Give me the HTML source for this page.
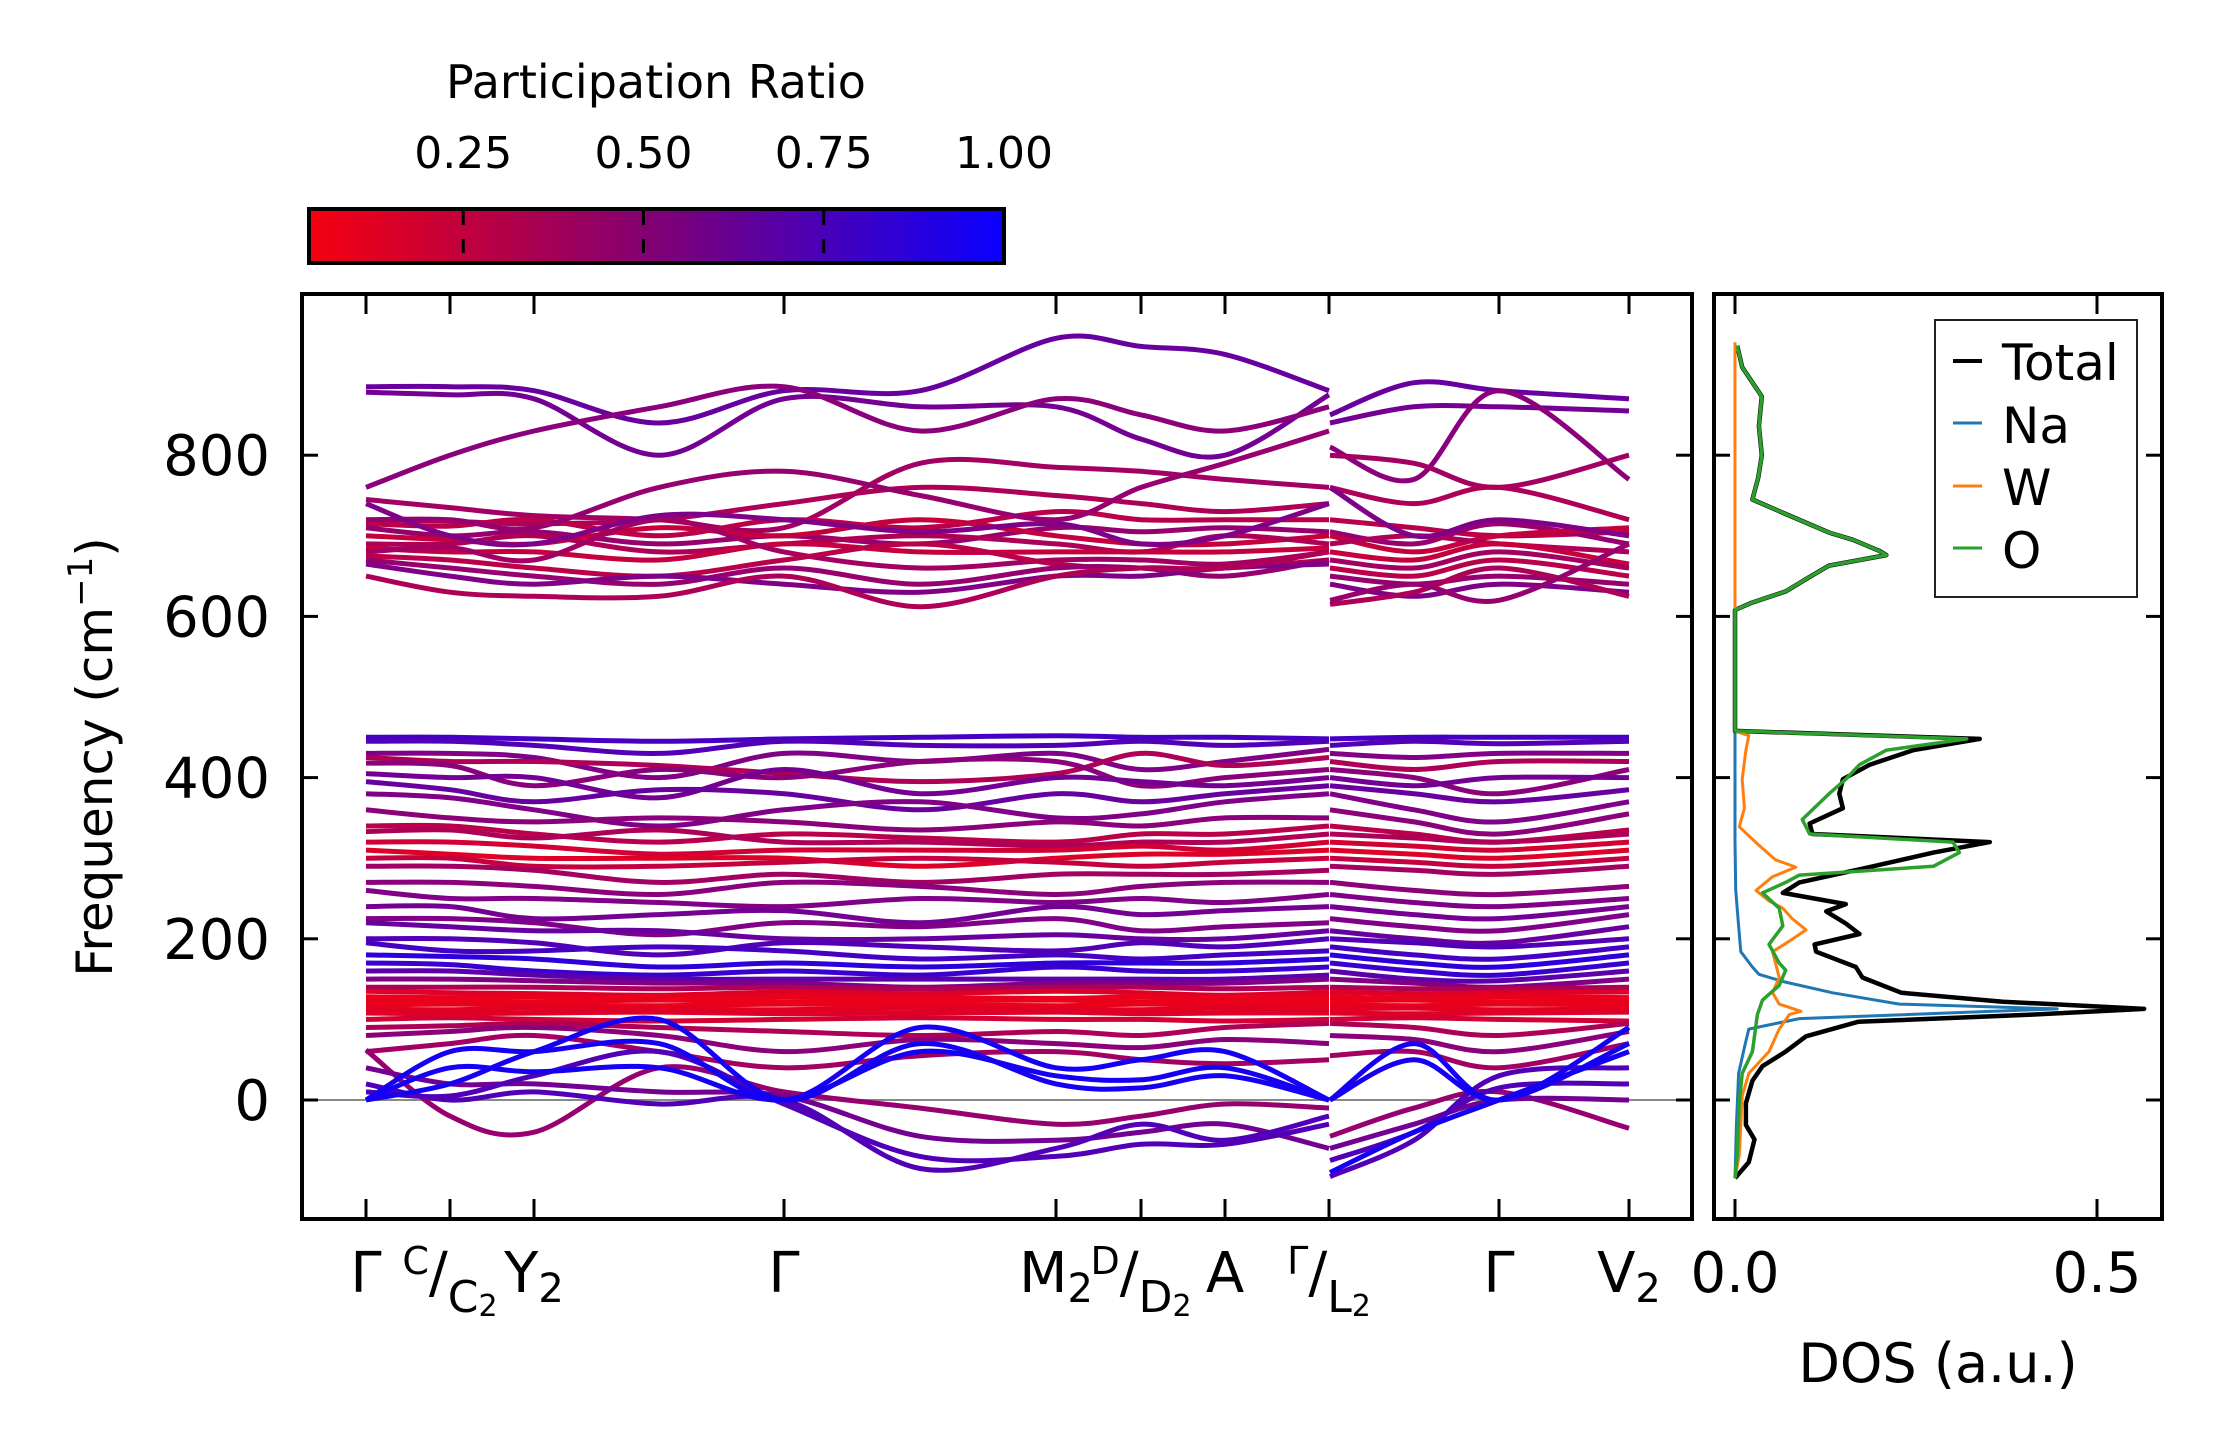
<!DOCTYPE html>
<html><head><meta charset="utf-8"><style>
html,body{margin:0;padding:0;background:#fff}
svg{display:block;font-family:"DejaVu Sans","Liberation Sans",sans-serif}
</style></head><body>
<svg id="fig" width="2222" height="1455" viewBox="0 0 2222 1455" xmlns="http://www.w3.org/2000/svg">
<defs>
<linearGradient id="cbgrad" x1="0" x2="1" y1="0" y2="0">
<stop offset="0" stop-color="#f5000f"/><stop offset="0.5" stop-color="#800075"/><stop offset="1" stop-color="#0a00ff"/>
</linearGradient>
<clipPath id="bandclip"><rect x="302" y="294" width="1390" height="925"/></clipPath>
<clipPath id="dosclip"><rect x="1714" y="294" width="448" height="925"/></clipPath>
</defs>
<g>
<text x="656" y="98" font-size="46" text-anchor="middle">Participation Ratio</text>
<rect x="309" y="209" width="695" height="54" fill="url(#cbgrad)" stroke="#000" stroke-width="4"/>
<g id="cbticks"></g>
</g>
<g id="bandplot">
<line x1="302" x2="1692" y1="1100" y2="1100" stroke="#888" stroke-width="2"/>
<g id="bands" clip-path="url(#bandclip)"></g>
<rect x="302" y="294" width="1390" height="925" fill="none" stroke="#000" stroke-width="4"/>
<g id="bandaxes"></g>
<text transform="translate(112,757) rotate(-90)" font-size="50" text-anchor="middle">Frequency (cm<tspan dy="-20" font-size="34">−1</tspan><tspan dy="20">)</tspan></text>
</g>
<g id="dosplot">
<g id="dos" clip-path="url(#dosclip)"></g>
<rect x="1714" y="294" width="448" height="925" fill="none" stroke="#000" stroke-width="4"/>
<g id="dosaxes"></g>
<text x="1938" y="1382" font-size="54" text-anchor="middle">DOS (a.u.)</text>
<g>
<rect x="1935" y="320" width="202" height="277" fill="#fff" stroke="#222" stroke-width="2"/>
<line x1="1953" x2="1982" y1="361" y2="361" stroke="#000" stroke-width="4"/>
<text x="2002" y="380" font-size="50">Total</text>
<line x1="1953" x2="1982" y1="423" y2="423" stroke="#1f77b4" stroke-width="3"/>
<text x="2002" y="443" font-size="50">Na</text>
<line x1="1953" x2="1982" y1="486" y2="486" stroke="#ff7f0e" stroke-width="3"/>
<text x="2002" y="505" font-size="50">W</text>
<line x1="1953" x2="1982" y1="548" y2="548" stroke="#2ca02c" stroke-width="3"/>
<text x="2002" y="568" font-size="50">O</text>
</g>
</g>
</svg>
<script>
// ---- data ----
const freqTicks = [0, 200, 400, 600, 800];
const kTickDist = [0, 0.84, 1.68, 4.18, 6.90, 7.75, 8.59, 9.63, 11.33, 12.63];
const kTickLabels = ["Γ", "C/C2", "Y2", "Γ", "M2", "D/D2", "A", "Γ/L2", "Γ", "V2"];
const sec1K = [0, 0.84, 1.68, 2.93, 4.18, 5.54, 6.90, 7.75, 8.59, 9.63];
const sec2K = [9.63, 10.48, 11.33, 12.63];
const cbTicks = [0.25, 0.5, 0.75, 1.0];
const cbTickLabels = ["0.25", "0.50", "0.75", "1.00"];
const bandSec1 = [
[885,885,880,840,880,880,945,935,925,880],[878,875,870,800,870,860,860,820,800,875],
[760,800,830,860,885,830,870,850,830,860],[745,735,725,720,710,790,785,780,770,760],
[720,718,715,720,740,760,750,740,730,740],[715,712,720,700,720,710,730,720,720,720],
[710,700,705,690,700,690,710,705,710,705],[700,695,690,710,700,720,700,690,690,700],
[690,690,700,680,690,700,690,680,700,690],[685,680,680,670,690,680,680,680,680,685],
[680,685,670,720,680,660,670,670,665,680],[675,670,660,650,670,690,665,660,660,670],
[670,660,650,640,660,640,660,660,650,670],[665,650,640,650,640,630,650,650,660,665],
[650,630,625,625,650,612,650,660,660,680],[720,720,710,760,780,750,720,760,790,830],
[740,700,690,725,720,705,715,690,700,740],
[450,450,448,445,448,450,452,450,450,448],[445,445,440,430,445,440,440,445,440,445],
[430,430,425,400,430,420,430,410,420,435],[425,420,420,415,405,395,405,430,415,425],
[418,415,390,410,400,420,420,390,400,410],[405,400,400,375,410,380,400,395,390,400],
[395,385,370,385,380,360,380,370,380,390],[380,375,360,340,360,370,350,355,370,380],
[360,350,345,350,345,335,345,340,350,350],[340,340,330,320,330,325,320,330,330,340],
[333,335,325,335,320,320,315,320,320,330],[320,320,315,305,310,310,310,315,310,320],
[310,305,300,300,300,290,300,305,305,310],[300,300,290,290,295,300,295,290,295,300],
[290,290,285,270,280,270,280,280,280,285],[270,270,265,255,270,265,255,265,270,270],
[260,250,250,245,240,250,245,250,245,255],[240,240,225,230,235,220,240,230,235,240],
[225,225,220,205,220,215,225,210,215,220],[220,215,210,210,200,200,205,200,200,210],
[200,200,195,180,195,190,185,195,190,200],[195,185,185,190,185,175,180,175,180,185],
[180,178,175,165,170,165,170,170,170,175],[170,168,160,155,160,155,165,160,160,165],
[160,160,155,150,150,150,150,150,150,155],[150,150,148,145,145,140,145,145,145,150],
[140,140,140,138,140,138,140,140,138,140],[135,133,132,130,134,132,135,133,130,134],
[128,127,128,126,128,127,126,128,127,128],[124,123,122,124,122,123,124,122,124,123],
[118,119,118,117,119,118,117,119,118,118],[113,112,114,113,112,114,113,112,114,113],
[108,107,108,109,107,108,109,107,108,108],[100,102,100,98,100,102,100,100,98,100],
[90,92,95,90,85,80,85,80,90,95],[80,85,90,80,60,75,70,65,75,70],
[60,70,80,60,40,55,60,50,45,50],[62,-20,-40,40,10,-10,-30,-20,-5,-10],
[40,20,20,10,5,-45,-50,-40,-30,-60],[20,0,10,-5,0,-85,-60,-30,-50,-20],
[10,5,30,60,-5,-70,-70,-55,-55,-30],
[0,60,60,70,0,90,40,50,60,0],[0,40,35,40,0,60,30,25,40,0],[0,20,60,100,0,70,20,15,30,0]
];
const bandSec2 = [
[850,890,880,870],[840,860,860,855],[810,770,880,770],[800,790,760,800],[760,740,760,720],
[720,710,700,705],[705,690,715,690],[700,680,700,710],[690,700,690,680],[680,670,690,665],
[670,660,680,660],[660,650,670,650],[650,640,650,640],[640,625,640,630],[615,630,660,625],
[620,640,620,690],[760,700,720,700],
[448,450,450,450],[440,445,442,445],[430,425,430,430],[420,410,420,420],[410,400,380,410],
[400,390,400,400],[390,380,370,385],[380,360,345,370],[360,345,330,355],[340,330,320,335],
[330,325,320,330],[320,315,310,320],[310,305,300,310],[300,295,290,300],[290,285,280,290],
[270,260,255,265],[255,245,240,250],[240,230,225,240],[225,215,210,230],[210,200,195,215],
[200,195,190,200],[190,180,175,190],[180,170,165,180],[170,160,155,170],[160,150,148,160],
[150,145,140,150],[140,138,138,140],[134,132,133,134],[128,126,128,127],[123,124,122,123],
[118,117,119,118],[113,114,112,113],[108,107,108,109],[100,102,100,98],
[95,90,80,95],[80,75,60,85],[55,60,40,70],[-45,-10,10,-35],
[-60,-30,0,0],[-75,-40,15,20],[-95,-50,30,40],
[0,70,0,90],[0,50,0,70],[-90,-40,0,60]
];
const bandPR = [
.6,.55,.45,.35,.3,.25,.4,.2,.3,.2,.35,.25,.4,.5,.3,.4,.5,
.75,.7,.5,.3,.45,.55,.6,.5,.45,.25,.3,.15,.1,.2,.35,.45,.5,.55,.5,.6,.7,.75,.85,.8,.65,.5,.3,
.1,.05,.05,.05,.08,.1,.15,
.3,.45,.35,.4,.55,.7,.7,
.95,.95,.95
];
const dosFreq = [-97,-77,-49,-31,-4,24,42,60,79,97,106,113,122,133,152,165,184,193,206,219,234,243,257,270,289,307,320,330,343,362,380,398,416,434,448,458,600,608,617,631,649,663,676,681,695,704,727,745,772,800,836,873,909,936];
const dosTotal = [0,.019,.027,.015,.015,.024,.038,.07,.098,.17,.41,.565,.37,.23,.176,.167,.112,.110,.172,.153,.126,.153,.066,.089,.186,.274,.352,.107,.103,.149,.144,.149,.186,.246,.338,0,0,0,.023,.07,.103,.13,.209,.2,.163,.13,.07,.024,.032,.037,.033,.037,.01,.003];
const oFreq = [-97,-68,-4,33,60,106,124,142,161,170,193,216,238,257,270,279,290,307,320,330,348,380,398,416,434,448,458,600,608,617,631,649,663,676,681,695,704,727,745,772,800,836,873,909,936];
const dosO = [0,.003,.006,.01,.024,.031,.038,.061,.07,.061,.047,.066,.061,.038,.07,.089,.274,.31,.301,.103,.093,.13,.153,.172,.209,.32,0,0,0,.023,.07,.103,.13,.209,.2,.163,.13,.07,.024,.032,.037,.033,.037,.01,.003];
const wFreq = [-97,-68,-31,5,33,60,88,106,110,119,133,152,184,197,211,225,238,247,260,277,289,298,316,339,362,398,434,452,458,940];
const dosW = [0,.006,.008,.01,.019,.047,.061,.075,.091,.061,.052,.061,.052,.075,.098,.079,.066,.047,.029,.052,.084,.056,.033,.006,.013,.01,.015,.019,0,0];
const naFreq = [-97,-31,33,69,88,101,113,119,133,147,156,165,184,216,261,322,940];
const dosNa = [0,.002,.005,.014,.019,.089,.445,.227,.135,.066,.033,.024,.008,.005,.001,0,0];
const dosTicks = [0, 0.5];
const dosTickLabels = ["0.0", "0.5"];

// ---- axes ----
const NS = "http://www.w3.org/2000/svg";
const yOf = f => 1100 - f * 0.806;
const xOfK = k => 366 + k * 100.0;
const xOfDos = d => 1735 + d * 724;
const xOfCb = v => 1004 - (1 - v) * 721;
function mk(tag, attrs, parent) {
  const el = document.createElementNS(NS, tag);
  for (const a in attrs) el.setAttribute(a, attrs[a]);
  parent.appendChild(el);
  return el;
}
function prColor(p) {
  const r = Math.round(245 + (10 - 245) * p), b = Math.round(15 + (255 - 15) * p);
  return `rgb(${r},0,${b})`;
}
function smooth(pts) {
  let d = `M${pts[0][0].toFixed(1)},${pts[0][1].toFixed(1)}`;
  for (let i = 0; i < pts.length - 1; i++) {
    const p0 = pts[Math.max(0, i - 1)], p1 = pts[i], p2 = pts[i + 1], p3 = pts[Math.min(pts.length - 1, i + 2)];
    const c1 = [p1[0] + (p2[0] - p0[0]) / 6, p1[1] + (p2[1] - p0[1]) / 6];
    const c2 = [p2[0] - (p3[0] - p1[0]) / 6, p2[1] - (p3[1] - p1[1]) / 6];
    d += `C${c1[0].toFixed(1)},${c1[1].toFixed(1)} ${c2[0].toFixed(1)},${c2[1].toFixed(1)} ${p2[0].toFixed(1)},${p2[1].toFixed(1)}`;
  }
  return d;
}
// colorbar
const cbt = document.getElementById('cbticks');
cbTicks.forEach((v, i) => {
  const x = xOfCb(v);
  if (v < 1) {
    const t = mk('line', {x1: x, x2: x, y1: 211, y2: 262, stroke: '#000', 'stroke-width': 3, 'stroke-dasharray': '14,14'}, cbt);
    
    
  }
  const l = mk('text', {x: x, y: 168, 'font-size': 44, 'text-anchor': 'middle'}, cbt);
  l.textContent = cbTickLabels[i];
  
  
});
// bands
const bg = document.getElementById('bands');
bandSec1.forEach((vals, i) => {
  const col = prColor(bandPR[i]);
  const p1 = mk('path', {d: smooth(vals.map((f, j) => [xOfK(sec1K[j]), yOf(f)])), fill: 'none', stroke: col, 'stroke-width': 5}, bg);
  
  
  const v2 = bandSec2[i];
  const p2 = mk('path', {d: smooth(v2.map((f, j) => [xOfK(sec2K[j]) + (j === 0 ? 1 : 0), yOf(f)])), fill: 'none', stroke: col, 'stroke-width': 5}, bg);
  
  
});
// band axes
const ba = document.getElementById('bandaxes');
freqTicks.forEach(f => {
  const y = yOf(f);
  const a = mk('line', {x1: 302, x2: 318, y1: y, y2: y, stroke: '#000', 'stroke-width': 3}, ba);
  
  
  const b = mk('line', {x1: 1676, x2: 1692, y1: y, y2: y, stroke: '#000', 'stroke-width': 3}, ba);
  
  
  const t = mk('text', {x: 270, y: y + 20, 'font-size': 56, 'text-anchor': 'end'}, ba);
  t.textContent = String(f);
  
  
});
kTickDist.forEach((k, i) => {
  const x = xOfK(k);
  const a = mk('line', {x1: x, x2: x, y1: 1219, y2: 1199, stroke: '#000', 'stroke-width': 3}, ba);
  
  
  const b = mk('line', {x1: x, x2: x, y1: 294, y2: 314, stroke: '#000', 'stroke-width': 3}, ba);
  
  
  const lab = kTickLabels[i];
  const t = mk('text', {x: x, y: 1292, 'font-size': 56, 'text-anchor': 'middle'}, ba);
  
  
  if (lab.indexOf('/') >= 0) {
    const [a1, b1] = lab.split('/');
    const s1 = mk('tspan', {'font-size': 38, dy: -18}, t); s1.textContent = a1;
    const s2 = mk('tspan', {dy: 18}, t); s2.textContent = '/';
    const s3 = mk('tspan', {'font-size': 44, dy: 20}, t); s3.textContent = b1[0];
    const s4 = mk('tspan', {'font-size': 30, dy: 4}, t); s4.textContent = b1.slice(1);
  } else if (lab.length > 1) {
    const s1 = mk('tspan', {}, t); s1.textContent = lab[0];
    const s2 = mk('tspan', {'font-size': 40, dy: 10}, t); s2.textContent = lab.slice(1);
  } else {
    t.textContent = lab;
  }
});
// DOS
const dg = document.getElementById('dos');
[[naFreq, dosNa, '#1f77b4', 3, 'dos-na'], [dosFreq, dosTotal, '#000', 4.5, 'dos-total'], [wFreq, dosW, '#ff7f0e', 3, 'dos-w'], [oFreq, dosO, '#2ca02c', 3.5, 'dos-o']].forEach(s => {
  const d = s[0].map((f, j) => (j ? 'L' : 'M') + xOfDos(s[1][j]).toFixed(1) + ',' + yOf(f).toFixed(1)).join('');
  const p = mk('path', {d: d, fill: 'none', stroke: s[2], 'stroke-width': s[3], 'stroke-linejoin': 'round'}, dg);
  
  
});
const da = document.getElementById('dosaxes');
freqTicks.forEach(f => {
  const y = yOf(f);
  const a = mk('line', {x1: 1714, x2: 1730, y1: y, y2: y, stroke: '#000', 'stroke-width': 3}, da);
  
  
  const b = mk('line', {x1: 2146, x2: 2162, y1: y, y2: y, stroke: '#000', 'stroke-width': 3}, da);
  
  
});
dosTicks.forEach((v, i) => {
  const x = xOfDos(v);
  const a = mk('line', {x1: x, x2: x, y1: 1219, y2: 1199, stroke: '#000', 'stroke-width': 3}, da);
  
  
  const b = mk('line', {x1: x, x2: x, y1: 294, y2: 314, stroke: '#000', 'stroke-width': 3}, da);
  
  
  const t = mk('text', {x: x, y: 1292, 'font-size': 56, 'text-anchor': 'middle'}, da);
  t.textContent = dosTickLabels[i];
  
  
});
</script>
</body></html>
